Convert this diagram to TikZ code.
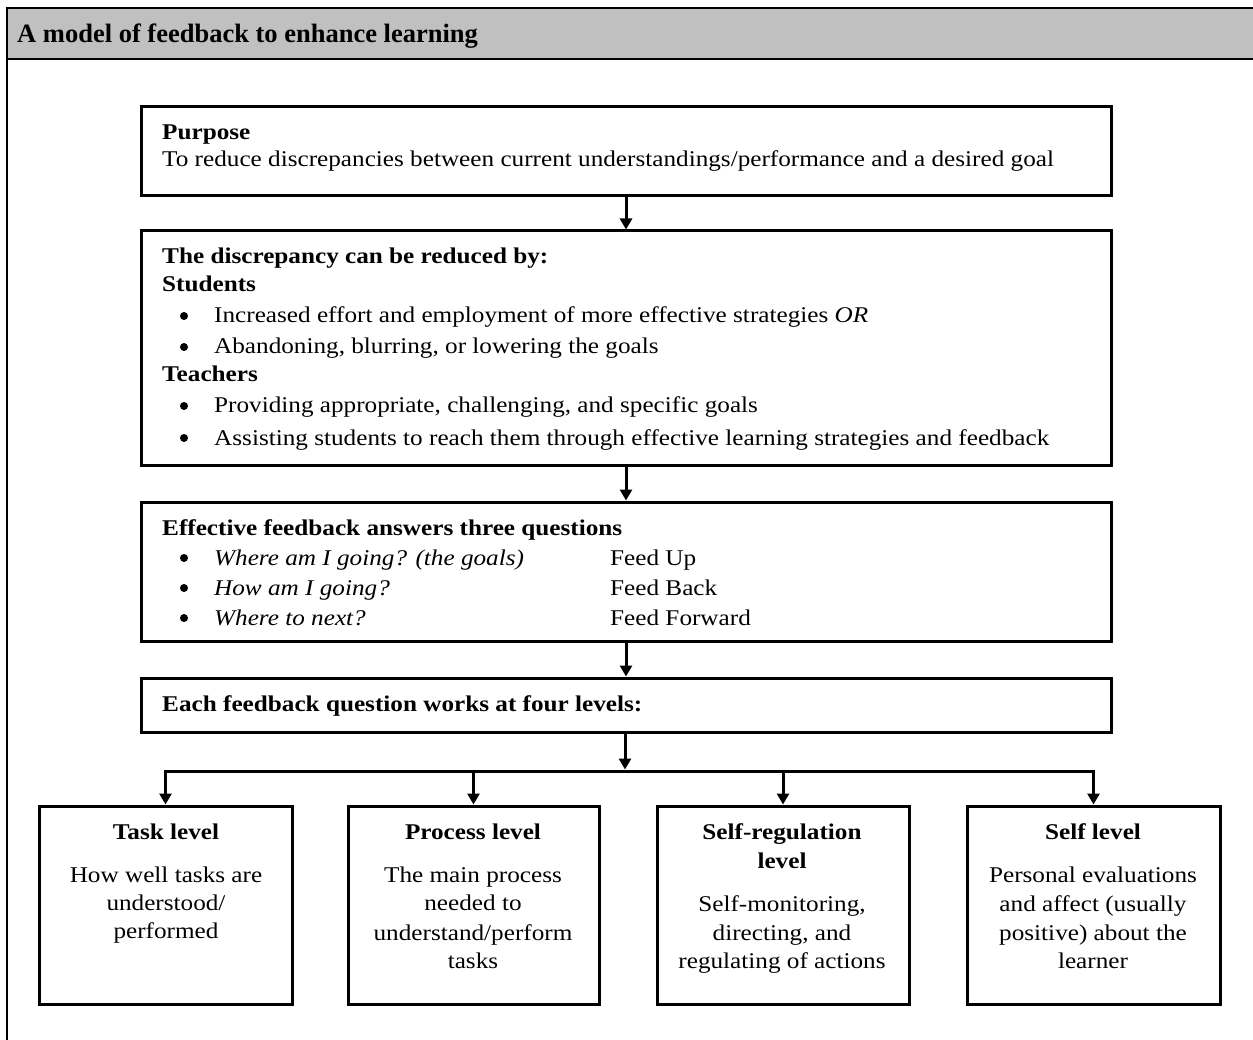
\documentclass[tikz,border=0pt]{standalone}
\usepackage{fontspec}
\setmainfont{Liberation Serif}
\newfontfamily\bodyf[FakeStretch=1.12]{Liberation Serif}
\usetikzlibrary{arrows.meta}
\definecolor{hdr}{RGB}{192,192,192}
\begin{document}
\begin{tikzpicture}[x=1pt,y=-1pt,
  box/.style={draw, line width=3pt, inner sep=0pt},
  arr/.style={line width=3pt, -{Triangle[length=11pt,width=12pt]}},
  frame/.style={line width=2pt},
  txt/.style={anchor=base west, inner sep=0pt, font=\bodyf\fontsize{22.5}{28}\selectfont},
  btxt/.style={txt, font=\bodyf\bfseries\fontsize{22.5}{28}\selectfont},
  ctxt/.style={anchor=base, inner sep=0pt, font=\bodyf\fontsize{22.5}{28}\selectfont},
  cbtxt/.style={ctxt, font=\bodyf\bfseries\fontsize{22.5}{28}\selectfont},
  bul/.style={circle, fill, inner sep=0pt, minimum size=8pt}]
\useasboundingbox (0,0) rectangle (1253,1040);
% frame and header
\fill[hdr] (7,8) rectangle (1253,59);
\draw[frame] (1253,8) -- (7,8) -- (7,1040);
\draw[frame] (7,59) -- (1253,59);
\node[anchor=base west, inner sep=0pt, font=\bfseries\fontsize{26.5}{30}\selectfont] (title) at (17,43) {A model of feedback to enhance learning};
% boxes
\node[box, minimum width=970, minimum height=89] (b1) at (626,151.5) {};
\node[box, minimum width=970, minimum height=234] (b2) at (626,348) {};
\node[box, minimum width=970, minimum height=139] (b3) at (626,571.5) {};
\node[box, minimum width=970, minimum height=54] (b4) at (626,705) {};
\node[box, minimum width=253, minimum height=198] (t1) at (165.5,905) {};
\node[box, minimum width=251, minimum height=198] (t2) at (473.5,905) {};
\node[box, minimum width=252, minimum height=198] (t3) at (783,905) {};
\node[box, minimum width=253, minimum height=198] (t4) at (1093.5,905) {};
% box 1 text
\node[btxt] (p1) at (162,140) {Purpose};
\node[txt] (p2) at (162,167) {To reduce discrepancies between current understandings/performance and a desired goal};
% box 2 text
\node[btxt] (d1) at (162,264) {The discrepancy can be reduced by:};
\node[btxt] (d2) at (162,292) {Students};
\node[bul] (d3b) at (184,316) {};
\node[txt] (d3) at (214,323) {Increased effort and employment of more effective strategies \textit{OR}};
\node[bul] (d4b) at (184,347) {};
\node[txt] (d4) at (214,354) {Abandoning, blurring, or lowering the goals};
\node[btxt] (d5) at (162,382) {Teachers};
\node[bul] (d6b) at (184,406) {};
\node[txt] (d6) at (214,413) {Providing appropriate, challenging, and specific goals};
\node[bul] (d7b) at (184,438) {};
\node[txt] (d7) at (214,445) {Assisting students to reach them through effective learning strategies and feedback};
% box 3 text
\node[btxt] (e1) at (162,535) {Effective feedback answers three questions};
\node[bul] (e2b) at (184,558) {};
\node[txt] (e2) at (214,565) {\itshape Where am I going? (the goals)};
\node[txt] (e2r) at (610,565) {Feed Up};
\node[bul] (e3b) at (184,588) {};
\node[txt] (e3) at (214,595) {\itshape How am I going?};
\node[txt] (e3r) at (610,595) {Feed Back};
\node[bul] (e4b) at (184,618) {};
\node[txt] (e4) at (214,625) {\itshape Where to next?};
\node[txt] (e4r) at (610,625) {Feed Forward};
% box 4 text
\node[btxt] (f1) at (162,711) {Each feedback question works at four levels:};
% bottom texts
\node[cbtxt] (t1h) at (166,839) {Task level};
\node[ctxt] (t1a) at (166,882) {How well tasks are};
\node[ctxt] (t1b) at (166,910) {understood/};
\node[ctxt] (t1c) at (166,938) {performed};
\node[cbtxt] (t2h) at (473,839) {Process level};
\node[ctxt] (t2a) at (473,882) {The main process};
\node[ctxt] (t2b) at (473,910) {needed to};
\node[ctxt] (t2c) at (473,940) {understand/perform};
\node[ctxt] (t2d) at (473,968) {tasks};
\node[cbtxt] (t3h) at (782,839) {Self-regulation};
\node[cbtxt] (t3i) at (782,868) {level};
\node[ctxt] (t3a) at (782,911) {Self-monitoring,};
\node[ctxt] (t3b) at (782,940) {directing, and};
\node[ctxt] (t3c) at (782,968) {regulating of actions};
\node[cbtxt] (t4h) at (1093,839) {Self level};
\node[ctxt] (t4a) at (1093,882) {Personal evaluations};
\node[ctxt] (t4b) at (1093,911) {and affect (usually};
\node[ctxt] (t4c) at (1093,940) {positive) about the};
\node[ctxt] (t4d) at (1093,968) {learner};
% connectors
\draw[arr] (b1.south) -- (b2.north);
\draw[arr] (b2.south) -- (b3.north);
\draw[arr] (b3.south) -- (b4.north);
\coordinate (j) at (625,771);
\draw[arr] (b4.south -| j) -- ([yshift=1.5pt]j);
\draw[arr] (j) -| (t1.north);
\draw[arr] (j) -| (t4.north);
\draw[arr] (t2.north |- j) -- (t2.north);
\draw[arr] (t3.north |- j) -- (t3.north);
\end{tikzpicture}
\end{document}
